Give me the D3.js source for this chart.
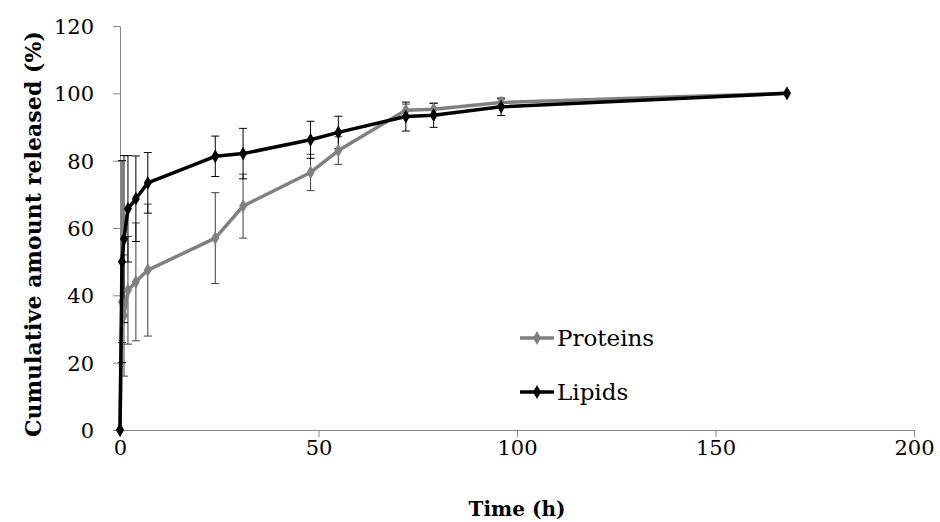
<!DOCTYPE html>
<html>
<head>
<meta charset="utf-8">
<script src="https://cdn.jsdelivr.net/npm/d3@7"></script>
<style>
  html, body { margin: 0; padding: 0; background: #fff; }
  svg { display: block; }
  text { font-family: "DejaVu Serif", "Liberation Serif", serif; fill: #000; }
</style>
</head>
<body>
<svg id="chart" width="940" height="522"></svg>
<script>
// ---- data ----
const times = [0, 0.5, 1, 2, 4, 7, 24, 31, 48, 55, 72, 79, 96, 168];
const proteins = [0, 38, 34, 41.5, 44, 47.5, 57, 66.5, 76.5, 83, 95, 95.3, 97.3, 100];
const proteinsErr = [0, 12, 18, 16, 17.5, 19.6, 13.5, 9.5, 5.4, 4.1, 1.8, 1.7, 1, 0];
const lipids = [0, 50, 56.7, 65.7, 68.7, 73.4, 81.3, 82.1, 86.2, 88.4, 93.1, 93.5, 96, 100];
const lipidsErr = [0, 30, 24.8, 15.8, 12.7, 9, 6, 7.5, 5.5, 4.8, 4.3, 3.6, 2.6, 0];
const xTicks = [0, 50, 100, 150, 200];
const yTicks = [0, 20, 40, 60, 80, 100, 120];
const seriesNames = ["Proteins", "Lipids"];

const series = [
  { name: seriesNames[0], values: proteins, err: proteinsErr, color: "#808080", errColor: "#404040" },
  { name: seriesNames[1], values: lipids, err: lipidsErr, color: "#000000", errColor: "#000000" }
];

const svg = d3.select("#chart");
const x = d3.scaleLinear().domain([0, 200]).range([120, 914]);
const y = d3.scaleLinear().domain([0, 120]).range([430, 26]);
const axisColor = "#868686";

// axes
const xAxis = svg.append("g").attr("transform", "translate(0,430)")
  .call(d3.axisBottom(x).tickValues(xTicks).tickSize(7).tickSizeOuter(0).tickPadding(3));
const yAxis = svg.append("g").attr("transform", "translate(120,0)")
  .call(d3.axisLeft(y).tickValues(yTicks).tickSize(7).tickSizeOuter(0).tickPadding(19));
[xAxis, yAxis].forEach(g => {
  g.select(".domain").attr("stroke", axisColor).attr("stroke-width", 1);
  g.selectAll(".tick line").attr("stroke", axisColor).attr("stroke-width", 1);
  g.selectAll(".tick text").attr("font-size", 21).attr("font-family", "DejaVu Serif").attr("fill", "#000");
});
xAxis.selectAll(".tick text").attr("dy", "0.71em");
yAxis.selectAll(".tick text").attr("dy", "0.36em");

// titles
svg.append("text").attr("x", 517).attr("y", 516).attr("text-anchor", "middle")
  .attr("font-size", 20).attr("font-weight", "bold").text("Time (h)");
svg.append("text").attr("transform", "translate(41,234) rotate(-90)").attr("text-anchor", "middle")
  .attr("font-size", 22).attr("font-weight", "bold")
  .attr("textLength", 406).attr("lengthAdjust", "spacing")
  .text("Cumulative amount released (%)");

// error bars
series.forEach(s => {
  const g = svg.append("g");
  times.forEach((t, i) => {
    if (!s.err[i]) return;
    const cx = x(t), y1 = y(s.values[i] + s.err[i]), y2 = y(s.values[i] - s.err[i]);
    g.append("line").attr("x1", cx).attr("x2", cx).attr("y1", y1).attr("y2", y2)
      .attr("stroke", s.errColor).attr("stroke-width", 1);
    [y1, y2].forEach(yy => g.append("line").attr("x1", cx - 4).attr("x2", cx + 4)
      .attr("y1", yy).attr("y2", yy).attr("stroke", s.errColor).attr("stroke-width", 1));
  });
});

// lines and markers
const line = d3.line().x((d, i) => x(times[i])).y(d => y(d));
const diamond = d3.symbol().type(d3.symbolDiamond).size(55);
series.forEach(s => {
  svg.append("path").datum(s.values).attr("d", line).attr("fill", "none")
    .attr("stroke", s.color).attr("stroke-width", 3.5).attr("stroke-linejoin", "round");
  svg.append("g").selectAll("path").data(s.values).join("path")
    .attr("d", diamond).attr("transform", (d, i) => `translate(${x(times[i])},${y(d)})`)
    .attr("fill", s.color);
});

// legend
const legY = [338, 392];
series.forEach((s, i) => {
  const g = svg.append("g").attr("transform", `translate(520,${legY[i]})`);
  g.append("line").attr("x1", 0).attr("x2", 34).attr("stroke", s.color).attr("stroke-width", 3.5);
  g.append("path").attr("d", diamond).attr("transform", "translate(17,0)").attr("fill", s.color);
  g.append("text").attr("x", 37).attr("y", 0).attr("dy", "0.35em").attr("font-size", 23).text(s.name);
});
</script>
</body>
</html>
